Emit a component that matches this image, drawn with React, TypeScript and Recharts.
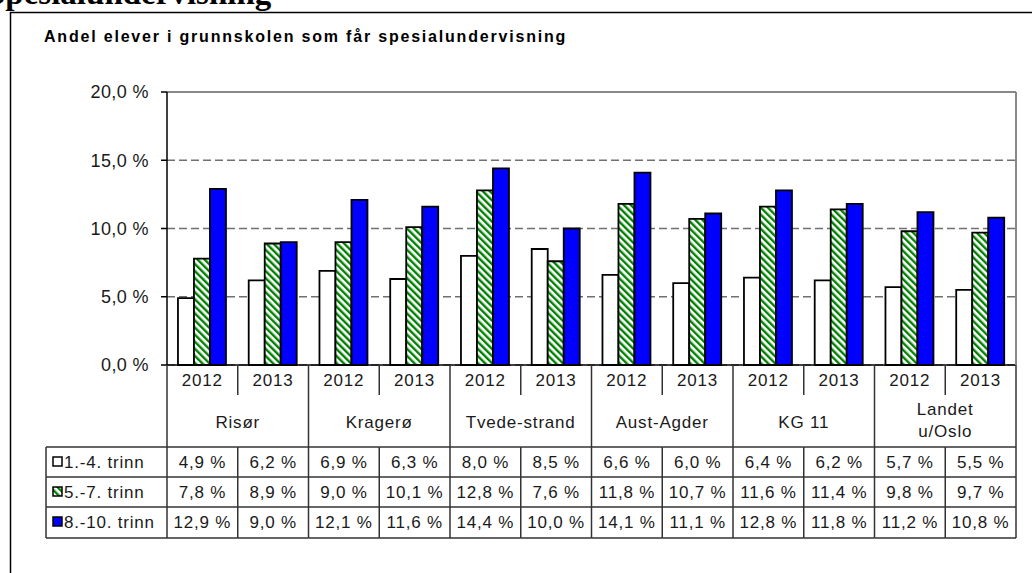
import React from "react";
import { BarChart, Bar, XAxis, YAxis, CartesianGrid, ReferenceLine } from "recharts";

const groups = ["Risør", "Kragerø", "Tvede-strand", "Aust-Agder", "KG 11", "Landet u/Oslo"];
const years = ["2012", "2013"];
const seriesNames = ["1.-4. trinn", "5.-7. trinn", "8.-10. trinn"];
const trinn1 = [4.9, 6.2, 6.9, 6.3, 8.0, 8.5, 6.6, 6.0, 6.4, 6.2, 5.7, 5.5];
const trinn5 = [7.8, 8.9, 9.0, 10.1, 12.8, 7.6, 11.8, 10.7, 11.6, 11.4, 9.8, 9.7];
const trinn8 = [12.9, 9.0, 12.1, 11.6, 14.4, 10.0, 14.1, 11.1, 12.8, 11.8, 11.2, 10.8];
const yTicks = [0, 5, 10, 15, 20];

const data = trinn1.map((v, i) => ({
  key: `${groups[Math.floor(i / 2)]}-${years[i % 2]}`,
  year: years[i % 2],
  group: groups[Math.floor(i / 2)],
  s1: v,
  s2: trinn5[i],
  s3: trinn8[i],
}));

const W = 1032;
const H = 573;
const PLOT_LEFT = 167;
const PLOT_TOP = 92;
const PLOT_RIGHT = 1016;
const AXIS_Y = 365;
const CW = (PLOT_RIGHT - PLOT_LEFT) / data.length;
const ROW_LINES = [447, 477, 507, 538];
const ROW_BASE = [468, 498, 528];
const LABEL_LEFT = 46;
const LINE = "#333";
const TXT = "#1a1a1a";
const FONT = "'Liberation Sans', Arial, sans-serif";
const fills = ["#ffffff", "url(#hatchGreen)", "#0000ff"];

const fmt = (v: number) => v.toFixed(1).replace(".", ",") + " %";

function TableTick(props: any) {
  const { x, index } = props;
  const i = index as number;
  const d = data[i];
  const left = x - CW / 2;
  const right = x + CW / 2;
  const vals = [d.s1, d.s2, d.s3];
  const groupStart = i % 2 === 0;
  const els: React.ReactNode[] = [];
  const tstyle = { fontFamily: FONT, fontSize: 17, letterSpacing: 0.8, fill: TXT } as any;

  els.push(
    <text key="yr" x={x} y={386} textAnchor="middle" style={tstyle}>
      {d.year}
    </text>
  );
  if (groupStart) {
    els.push(<line key="vl" x1={left} x2={left} y1={AXIS_Y} y2={538} stroke={LINE} strokeWidth={1.5} />);
    if (d.group === "Landet u/Oslo") {
      const parts = d.group.split(" ");
      els.push(
        <text key="g1" x={right} y={415} textAnchor="middle" style={tstyle}>
          {parts[0]}
        </text>,
        <text key="g2" x={right} y={437} textAnchor="middle" style={tstyle}>
          {parts[1]}
        </text>
      );
    } else {
      els.push(
        <text key="g" x={right} y={428} textAnchor="middle" style={tstyle}>
          {d.group}
        </text>
      );
    }
  } else {
    els.push(<line key="vl1" x1={left} x2={left} y1={AXIS_Y} y2={395} stroke={LINE} strokeWidth={1.5} />);
    els.push(<line key="vl2" x1={left} x2={left} y1={447} y2={538} stroke={LINE} strokeWidth={1.5} />);
  }
  if (i === data.length - 1) {
    els.push(<line key="vr" x1={right} x2={right} y1={AXIS_Y} y2={538} stroke={LINE} strokeWidth={1.5} />);
    els.push(<line key="vrg" x1={right} x2={right} y1={PLOT_TOP} y2={AXIS_Y} stroke="#888" strokeWidth={2} />);
  }
  ROW_LINES.forEach((ry, k) =>
    els.push(<line key={"h" + k} x1={left} x2={right} y1={ry} y2={ry} stroke={LINE} strokeWidth={1.5} />)
  );
  vals.forEach((v, k) =>
    els.push(
      <text key={"v" + k} x={x} y={ROW_BASE[k]} textAnchor="middle" style={tstyle}>
        {fmt(v)}
      </text>
    )
  );
  if (i === 0) {
    ROW_LINES.forEach((ry, k) =>
      els.push(<line key={"lh" + k} x1={LABEL_LEFT} x2={left} y1={ry} y2={ry} stroke={LINE} strokeWidth={1.5} />)
    );
    els.push(<line key="lv" x1={LABEL_LEFT} x2={LABEL_LEFT} y1={447} y2={538} stroke={LINE} strokeWidth={1.5} />);
    seriesNames.forEach((n, k) => {
      els.push(
        <rect key={"sw" + k} x={53} y={ROW_BASE[k] - 11} width={9} height={9} fill={fills[k]} stroke="#000" strokeWidth={1.5} />,
        <text key={"sn" + k} x={64} y={ROW_BASE[k]} style={tstyle}>
          {n}
        </text>
      );
    });
  }
  return <g>{els}</g>;
}

export default function App() {
  return (
    <div style={{ position: "absolute", left: 0, top: 0, width: W, height: H, overflow: "hidden", background: "#fff" }}>
      <svg width={W} height={H} style={{ position: "absolute", left: 0, top: 0 }}>
        <text x={-13} y={4} style={{ fontFamily: "'Liberation Serif', 'Times New Roman', serif", fontWeight: 700, fontSize: 33, fill: "#000" }}>
          Spesialundervisning
        </text>
        <line x1={10} x2={W + 5} y1={12.5} y2={12.5} stroke="#000" strokeWidth={1.5} />
        <line x1={10.5} x2={10.5} y1={12} y2={H + 5} stroke="#000" strokeWidth={1.5} />
        <text x={44} y={42} style={{ fontFamily: FONT, fontWeight: 700, fontSize: 16, letterSpacing: 1.8, fill: "#000" }}>
          Andel elever i grunnskolen som får spesialundervisning
        </text>
      </svg>
      <div style={{ position: "absolute", left: 0, top: 0 }}>
        <BarChart
          width={W}
          height={H}
          data={data}
          margin={{ top: PLOT_TOP, left: PLOT_LEFT - 60, right: W - PLOT_RIGHT, bottom: 0 }}
          barCategoryGap="15.5%"
          barGap={0}
        >
          <defs>
            <pattern id="hatchGreen" patternUnits="userSpaceOnUse" width={5} height={5} patternTransform="rotate(-45)">
              <rect x={0} y={0} width={5} height={5} fill="#fff" />
              <line x1={1.2} x2={1.2} y1={0} y2={5} stroke="#008000" strokeWidth={2.4} />
            </pattern>
          </defs>
          <CartesianGrid vertical={false} stroke="#707070" strokeWidth={1.5} strokeDasharray="8 4" />
          <ReferenceLine y={20} stroke="#888" strokeWidth={2} />
          <XAxis
            dataKey="key"
            height={H - AXIS_Y}
            interval={0}
            tickLine={false}
            axisLine={{ stroke: "#000", strokeWidth: 1.5 }}
            tick={(p: any) => <TableTick {...p} />}
          />
          <YAxis
            width={60}
            domain={[0, 20]}
            ticks={yTicks}
            tickFormatter={fmt}
            tickSize={6}
            tickMargin={12}
            axisLine={{ stroke: "#000", strokeWidth: 1.5 }}
            tickLine={{ stroke: "#000", strokeWidth: 1.5 }}
            tick={{ fontFamily: FONT, fontSize: 18, letterSpacing: 0.4, fill: TXT }}
          />
          <Bar dataKey="s1" name={seriesNames[0]} fill={fills[0]} stroke="#000" strokeWidth={1.8} isAnimationActive={false} />
          <Bar dataKey="s2" name={seriesNames[1]} fill={fills[1]} stroke="#000" strokeWidth={1.8} isAnimationActive={false} />
          <Bar dataKey="s3" name={seriesNames[2]} fill={fills[2]} stroke="#000" strokeWidth={1.8} isAnimationActive={false} />
        </BarChart>
      </div>
    </div>
  );
}
